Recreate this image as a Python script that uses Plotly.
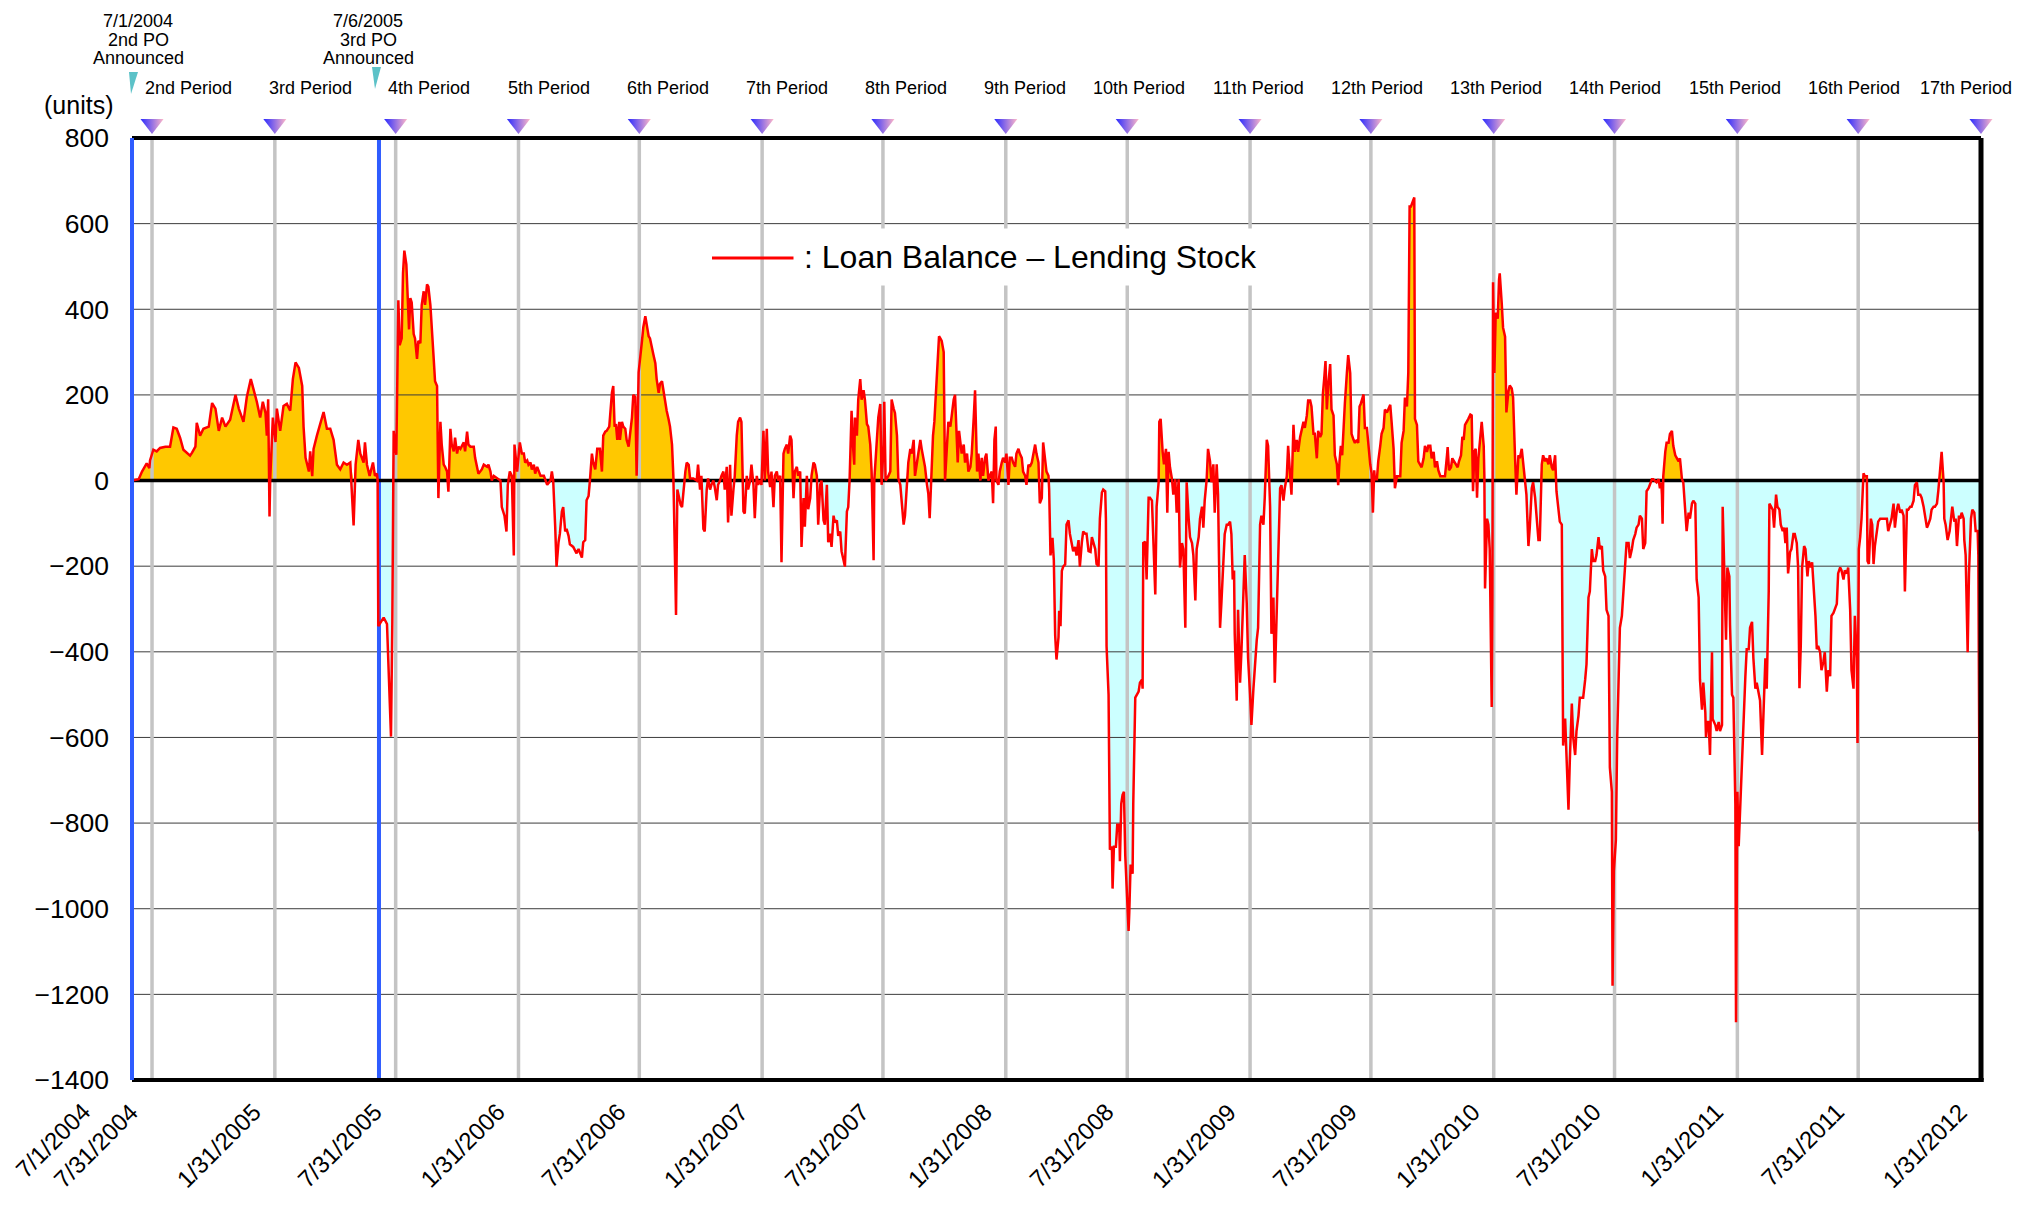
import pandas as pd
import plotly.graph_objects as go

# ---------------- canvas / layout geometry ----------------
# The page places the figure 8 px in from the top-left (browser body margin),
# so the figure is sized to fit and positions are given in page pixels.
OFF = 8
PAGE_W, PAGE_H = 2024, 1206
W, H = PAGE_W - 2 * OFF, PAGE_H - 2 * OFF
PLOT_L, PLOT_R, PLOT_T, PLOT_B = 132, 1981, 138, 1080      # page px of main plot area
HEAD_T = 110                                                # page px of top of marker strip
ML = PLOT_L - OFF
MR = W - (PLOT_R - OFF)
MT = HEAD_T - OFF
MB = H - (PLOT_B - OFF)
PW = PLOT_R - PLOT_L
PH_ALL = PLOT_B - HEAD_T
MAIN_TOP = (PLOT_B - PLOT_T) / PH_ALL                       # domain top of main y-axis

START = pd.Timestamp("2004-07-01")
END = pd.Timestamp("2012-01-31")
Y_MIN, Y_MAX = -1400, 800


def px_x(px):
    return (px - PLOT_L) / PW


def px_y(py):
    return (PLOT_B - py) / PH_ALL


# ---------------- data: (days since 7/1/2004, units) ----------------
seg_2004_07_to_2005_06 = [
    (0, 0), (10, 3), (15, 21), (20, 37), (22, 40), (26, 29), (27, 47), (32, 72), (37, 68), (42, 76),
    (50, 79), (57, 79), (60, 105), (62, 124), (67, 121), (72, 100), (77, 72), (82, 65), (87, 58), (90, 65),
    (95, 79), (97, 135), (102, 105), (107, 121), (115, 126), (120, 181), (125, 168), (130, 116), (135, 147),
    (140, 126), (147, 142), (155, 200), (160, 168), (167, 137), (172, 195), (178, 237), (182, 216), (187, 184),
    (192, 147), (196, 184), (200, 158), (202, 105), (204, 190), (206, -84), (207, 0), (211, 147), (215, 90),
    (217, 168), (222, 116), (227, 174), (232, 179), (237, 163), (241, 237), (245, 276), (250, 263), (255, 221),
    (257, 126), (260, 53), (265, 21), (267, 68), (270, 10), (272, 74), (277, 105), (282, 132), (287, 160),
    (292, 121), (297, 121), (302, 95), (307, 37), (312, 26), (317, 42), (322, 37), (327, 42), (332, -105),
    (335, 37), (339, 95),
]

seg_2005_06_to_2006_06 = [
    (342, 63), (347, 42), (349, 89), (352, 37), (356, 11), (361, 42), (364, 11), (367, 16), (368, 0), (369, -340),
    (377, -320), (382, -335), (384, -433), (388, -598), (390, -330), (392, 116), (396, 60), (399, 421), (401, 316),
    (404, 332), (406, 484), (408, 537), (411, 505), (413, 421), (415, 353), (417, 426), (419, 416), (422, 342),
    (424, 332), (427, 284), (429, 326), (432, 321), (434, 410), (437, 442), (439, 410), (442, 458), (444, 453),
    (447, 410), (449, 368), (452, 284), (454, 232), (457, 221), (459, -41), (462, 137), (464, 84), (467, 37),
    (469, 32), (472, 21), (474, -26), (477, 121), (479, 84), (482, 68), (484, 100), (487, 63), (489, 79), (492, 74),
    (497, 89), (499, 68), (502, 114), (504, 84), (507, 79), (512, 79), (514, 53), (519, 16), (524, 26), (527, 37),
    (532, 32), (534, 37), (537, 21), (539, 0), (542, 11), (547, 5), (552, 0), (554, -62), (558, -82), (561, -119),
    (563, -10), (566, 21), (569, 11), (572, -175), (573, 84), (577, 21), (581, 89), (584, 63), (587, 63), (589, 42),
    (592, 47), (594, 37), (597, 42), (599, 26), (602, 37), (604, 16), (607, 32), (612, 11), (617, 11), (622, -10),
    (627, 0), (629, 21), (631, 0), (634, -108), (636, -201), (639, -144), (641, -124), (644, -72), (646, -62),
    (649, -119), (651, -113), (654, -129), (656, -149), (661, -155), (666, -170), (669, -160), (671, -170),
    (674, -180), (676, -144), (679, -139), (681, -46), (684, -36), (686, 0), (689, 63), (691, 42), (694, 26),
    (697, 74), (701, 74), (704, 21), (706, 105), (709, 114), (711, 116), (715, 126),
]

seg_2006_06_to_2007_06 = [
    (719, 205), (721, 221), (723, 126), (725, 132), (727, 95), (730, 137), (731, 95), (734, 137), (736, 126),
    (739, 121), (741, 95), (744, 79), (746, 105), (749, 147), (751, 200), (754, 195), (756, 11), (759, 253),
    (764, 326), (766, 358), (769, 384), (771, 368), (774, 337), (776, 332), (779, 305), (781, 295), (784, 274),
    (786, 237), (789, 205), (791, 226), (794, 232), (796, 211), (799, 189), (801, 163), (804, 142), (806, 126),
    (809, 84), (811, 11), (814, -227), (815, -314), (817, -21), (820, -41), (822, -57), (824, -62), (826, -21),
    (829, 21), (831, 42), (834, 37), (836, 5), (841, 5), (846, 0), (848, 37), (851, -21), (853, 11), (856, -113),
    (858, -119), (861, -21), (863, 5), (866, -21), (868, -10), (871, 0), (873, -15), (876, -46), (878, -10),
    (881, 0), (883, 11), (886, 21), (888, -21), (891, 32), (893, -98), (896, 37), (898, -82), (901, -21),
    (903, 11), (906, 105), (908, 137), (911, 147), (913, 137), (916, -72), (918, -77), (921, 11), (923, -21),
    (926, 0), (928, 37), (931, -10), (933, -88), (936, 11), (938, -10), (941, 0), (943, -10), (946, 116),
    (948, 0), (951, 121), (953, 21), (956, -15), (958, 21), (961, -62), (963, 11), (966, 21), (968, 0), (971, 11),
    (973, -191), (976, 63), (978, 74), (981, 84), (983, 63), (986, 105), (988, 95), (991, -41), (993, 21),
    (996, 32), (998, 11), (1001, 21), (1003, -155), (1006, -41), (1008, -108), (1011, 11), (1013, -67),
    (1016, -41), (1018, 11), (1021, 42), (1023, 37), (1026, 11), (1028, -103), (1031, -10), (1033, 0),
    (1036, -93), (1038, -103), (1041, -10), (1043, -144), (1046, -124), (1048, -155), (1051, -82), (1053, -98),
    (1056, -93), (1058, -129), (1061, -119), (1063, -165), (1066, -186), (1068, -201), (1071, -72), (1073, -62),
]

seg_2007_06_to_2008_06 = [
    (1075, 0), (1077, 158), (1078, 163), (1080, 84), (1082, 37), (1083, 147), (1086, 105), (1088, 189),
    (1091, 237), (1093, 189), (1096, 211), (1098, 189), (1101, 132), (1103, 126), (1106, 84), (1108, 21),
    (1111, -186), (1112, 0), (1113, 21), (1116, 84), (1118, 147), (1121, 179), (1123, -10), (1126, 84),
    (1127, 184), (1129, 0), (1133, 10), (1136, 21), (1138, 189), (1141, 168), (1143, 158), (1146, 105),
    (1148, 5), (1151, -10), (1153, -41), (1156, -103), (1158, -82), (1161, 11), (1163, 42), (1166, 74),
    (1168, 63), (1171, 95), (1173, 11), (1176, 42), (1178, 63), (1181, 95), (1183, 74), (1186, 53), (1188, 32),
    (1191, -10), (1193, -31), (1195, -88), (1197, -10), (1200, 105), (1202, 137), (1204, 200), (1207, 274),
    (1209, 337), (1211, 332), (1213, 326), (1216, 300), (1218, 0), (1221, 84), (1223, 137), (1226, 126),
    (1228, 158), (1231, 189), (1233, 200), (1235, 116), (1237, 42), (1239, 116), (1241, 95), (1243, 63),
    (1246, 84), (1248, 42), (1251, 63), (1253, 21), (1256, 32), (1258, 63), (1261, 147), (1263, 211), (1266, 21),
    (1268, 63), (1271, 0), (1273, 53), (1275, 11), (1278, 53), (1280, 63), (1283, 0), (1285, 11), (1288, 21),
    (1290, -53), (1292, 95), (1294, 126), (1295, 0), (1298, -10), (1300, 21), (1303, 42), (1305, 53), (1308, 42),
    (1310, 63), (1313, -10), (1315, 53), (1318, 53), (1320, 42), (1323, 32), (1325, 63), (1328, 74), (1330, 63),
    (1333, 53), (1335, 21), (1338, 11), (1340, -10), (1343, 37), (1345, 32), (1348, 42), (1350, 63), (1353, 84),
    (1355, 63), (1358, 42), (1360, -53), (1363, -41), (1365, 89), (1368, 42), (1370, 21), (1373, 11),
    (1374, -21), (1376, -175), (1379, -134), (1381, -186), (1383, -361), (1385, -418), (1388, -366),
    (1389, -304), (1391, -340), (1393, -211), (1395, -201), (1398, -196), (1400, -103), (1403, -93),
    (1405, -124), (1408, -149), (1410, -165), (1413, -155), (1415, -175), (1418, -139), (1420, -201),
    (1423, -144), (1425, -119), (1428, -124), (1430, -124), (1433, -165),
]

seg_2008_06_to_2009_06 = [
    (1436, -167), (1438, -132), (1440, -146), (1443, -160), (1445, -195), (1448, -200), (1450, -89), (1453, -28),
    (1455, -21), (1458, -25), (1459, -89), (1460, -387), (1463, -500), (1464, -670), (1465, -862), (1468, -855),
    (1469, -953), (1471, -855), (1474, -855), (1476, -804), (1479, -804), (1480, -889), (1482, -755),
    (1484, -734), (1486, -727), (1488, -875), (1490, -946), (1493, -1052), (1494, -1010), (1496, -897),
    (1499, -918), (1500, -755), (1503, -507), (1505, -500), (1508, -493), (1510, -472), (1513, -465),
    (1514, -486), (1515, -146), (1518, -143), (1520, -231), (1523, -40), (1525, -40), (1528, -47), (1530, -132),
    (1533, -266), (1535, -61), (1538, -4), (1539, 137), (1541, 144), (1544, 67), (1546, 38), (1549, 74),
    (1551, -75), (1553, 67), (1555, 31), (1558, 3), (1560, -33), (1563, 3), (1565, -75), (1568, 3), (1570, -203),
    (1573, -146), (1575, -160), (1578, -344), (1580, -4), (1583, -89), (1585, -132), (1588, -146), (1590, -174),
    (1593, -280), (1595, -160), (1598, -132), (1600, -89), (1603, -61), (1605, -110), (1607, -47), (1610, 3),
    (1612, 74), (1615, 45), (1617, -4), (1620, 38), (1622, -75), (1625, 38), (1627, -33), (1630, -344),
    (1632, -287), (1635, -174), (1637, -125), (1640, -103), (1642, -103), (1645, -96), (1647, -125),
    (1649, -231), (1651, -210), (1652, -358), (1655, -514), (1657, -302), (1660, -472), (1662, -401),
    (1665, -245), (1667, -174), (1670, -287), (1672, -415), (1675, -500), (1677, -571), (1680, -486),
    (1682, -429), (1685, -372), (1687, -344), (1690, -103), (1692, -82), (1695, -103), (1697, -40), (1700, 95),
    (1702, 81), (1705, -61), (1707, -358), (1710, -273), (1712, -472), (1715, -302), (1717, -231), (1720, -18),
    (1722, -11), (1725, -47), (1727, -18), (1730, 10), (1732, 81), (1735, 24), (1737, -33), (1740, 130),
    (1742, 67), (1745, 95), (1747, 67), (1750, 102), (1752, 116), (1755, 137), (1757, 123), (1760, 152),
    (1762, 187),
]

seg_2009_06_to_2010_05 = [
    (1765, 187), (1767, 173), (1770, 109), (1772, 109), (1775, 52), (1777, 116), (1780, 102), (1782, 109),
    (1784, 201), (1786, 237), (1788, 279), (1790, 166), (1792, 222), (1795, 272), (1797, 166), (1800, 152),
    (1802, 59), (1805, 38), (1807, -11), (1809, 45), (1811, 81), (1813, 59), (1815, 130), (1817, 180),
    (1820, 251), (1822, 293), (1825, 251), (1827, 109), (1830, 95), (1832, 88), (1835, 95), (1837, 88),
    (1839, 173), (1841, 180), (1845, 201), (1847, 123), (1850, 123), (1852, 81), (1855, 38), (1857, 17),
    (1859, -75), (1861, 24), (1862, 3), (1865, 3), (1867, 45), (1870, 81), (1872, 109), (1875, 123), (1877, 166),
    (1880, 159), (1882, 166), (1885, 177), (1887, 137), (1890, 74), (1892, -18), (1895, 10), (1897, 10),
    (1900, 10), (1902, 88), (1905, 116), (1907, 194), (1910, 173), (1912, 251), (1914, 640), (1916, 640),
    (1919, 654), (1921, 661), (1922, 144), (1925, 130), (1927, 45), (1930, 38), (1932, 31), (1935, 52),
    (1937, 81), (1940, 67), (1942, 81), (1945, 81), (1947, 52), (1950, 67), (1952, 31), (1955, 45), (1957, 24),
    (1960, 10), (1962, 10), (1965, 10), (1967, 10), (1970, 59), (1971, 78), (1973, 24), (1976, 31), (1978, 52),
    (1981, 45), (1983, 38), (1986, 31), (1988, 45), (1991, 59), (1993, 102), (1995, 95), (1997, 130), (2000, 137),
    (2002, 144), (2005, 154), (2007, 152), (2009, -25), (2011, 67), (2013, 74), (2015, -40), (2017, 52),
    (2020, 102), (2022, 137), (2025, 81), (2026, 10), (2027, -252), (2030, -89), (2032, -103), (2034, -160),
    (2037, -529), (2038, -273), (2039, 463), (2041, 251), (2043, 392), (2046, 378), (2048, 470), (2049, 484),
    (2052, 414), (2054, 357), (2057, 336), (2059, 159), (2062, 208), (2064, 222), (2067, 215), (2069, 194),
    (2072, 52), (2074, -33), (2077, 59), (2079, 52), (2082, 74), (2084, 38), (2087, 3), (2089, -33), (2092, -153),
    (2094, -110), (2097, -18), (2099, -4), (2102, -40), (2104, -75), (2107, -139),
]

seg_2010_05_to_2011_05 = [
    (2109, -139), (2112, 38), (2114, 59), (2117, 45), (2119, 52), (2122, 38), (2124, 59), (2127, 31), (2129, 24),
    (2132, 59), (2134, -25), (2137, -75), (2139, -96), (2142, -103), (2143, -443), (2144, -619), (2147, -556),
    (2149, -655), (2152, -769), (2154, -655), (2157, -521), (2159, -599), (2162, -641), (2164, -585),
    (2167, -549), (2169, -507), (2172, -507), (2174, -507), (2177, -465), (2179, -429), (2182, -273),
    (2184, -259), (2187, -160), (2189, -188), (2192, -188), (2194, -174), (2197, -132), (2199, -160),
    (2202, -153), (2204, -210), (2207, -224), (2209, -302), (2212, -316), (2213, -457), (2214, -670),
    (2217, -727), (2218, -1180), (2220, -911), (2222, -840), (2223, -840), (2225, -599), (2227, -457),
    (2229, -344), (2232, -316), (2234, -259), (2237, -188), (2239, -146), (2242, -146), (2244, -181),
    (2247, -160), (2249, -139), (2252, -125), (2254, -110), (2257, -103), (2259, -82), (2262, -89), (2264, -160),
    (2267, -146), (2269, -25), (2272, -18), (2274, -11), (2277, 3), (2279, 3), (2282, -1), (2284, -4), (2287, 3),
    (2289, -18), (2291, -4), (2292, -33), (2293, -101), (2294, 10), (2297, 67), (2299, 88), (2302, 88),
    (2304, 109), (2307, 116), (2309, 81), (2312, 59), (2314, 52), (2317, 45), (2319, 52), (2322, 3), (2324, -4),
    (2327, -61), (2329, -118), (2332, -75), (2334, -89), (2337, -54), (2339, -47), (2342, -54), (2344, -231),
    (2347, -273), (2349, -465), (2352, -535), (2354, -472), (2357, -542), (2358, -599), (2360, -564),
    (2362, -564), (2364, -641), (2367, -401), (2368, -557), (2370, -564), (2372, -571), (2374, -585),
    (2377, -564), (2379, -585), (2382, -571), (2383, -61), (2385, -174), (2388, -372), (2390, -203),
    (2393, -224), (2394, -337), (2397, -500), (2399, -507), (2402, -755), (2403, -1265), (2405, -727),
    (2407, -854), (2409, -769), (2412, -670), (2414, -564), (2417, -457), (2419, -394), (2422, -394),
    (2424, -344), (2427, -330), (2429, -415), (2432, -486), (2434, -472), (2437, -493), (2439, -514),
    (2442, -641), (2444, -542), (2447, -415), (2449, -486),
]

seg_2011_05_to_2012_01 = [
    (2452, -259), (2453, -54), (2456, -61), (2458, -68), (2460, -110), (2463, -33), (2465, -61), (2468, -68),
    (2470, -103), (2473, -118), (2475, -110), (2477, -146), (2479, -110), (2481, -217), (2484, -167),
    (2486, -160), (2489, -125), (2491, -125), (2494, -146), (2496, -203), (2498, -485), (2500, -386),
    (2502, -203), (2505, -153), (2507, -160), (2510, -224), (2512, -188), (2515, -203), (2517, -191),
    (2520, -259), (2522, -316), (2524, -394), (2526, -386), (2529, -401), (2531, -443), (2534, -422),
    (2536, -401), (2539, -493), (2541, -443), (2544, -457), (2546, -316), (2549, -309), (2551, -302),
    (2554, -288), (2556, -217), (2559, -203), (2561, -210), (2564, -231), (2566, -210), (2569, -217),
    (2571, -203), (2574, -302), (2576, -443), (2579, -486), (2581, -316), (2584, -415), (2585, -613),
    (2587, -160), (2589, -132), (2591, -89), (2594, 17), (2596, 10), (2599, 10), (2600, -188), (2602, -195),
    (2605, -89), (2607, -103), (2609, -195), (2611, -153), (2614, -118), (2616, -96), (2619, -89), (2621, -89),
    (2624, -89), (2626, -89), (2629, -89), (2631, -118), (2634, -96), (2636, -89), (2639, -54), (2641, -110),
    (2644, -68), (2646, -54), (2649, -75), (2651, -68), (2654, -82), (2656, -259), (2659, -68), (2661, -68),
    (2664, -61), (2666, -61), (2669, -47), (2671, -11), (2674, -4), (2676, -33), (2679, -33), (2681, -40),
    (2684, -61), (2686, -82), (2689, -110), (2691, -103), (2694, -89), (2696, -68), (2699, -61), (2701, -61),
    (2704, -54), (2706, -25), (2709, 24), (2711, 67), (2714, -4), (2715, -89), (2717, -103), (2720, -139),
    (2723, -118), (2725, -89), (2727, -61), (2730, -96), (2732, -89), (2734, -153), (2737, -82), (2739, -89),
    (2741, -75), (2744, -89), (2745, -139), (2747, -174), (2750, -401), (2752, -217), (2755, -89), (2757, -68),
    (2760, -75), (2762, -118), (2765, -118), (2766, -174), (2768, -819), (2770, -132),
]

# ---------------- axis / annotation text ----------------
tick_dates = ["2004-07-01", "2004-07-31", "2005-01-31", "2005-07-31", "2006-01-31", "2006-07-31",
              "2007-01-31", "2007-07-31", "2008-01-31", "2008-07-31", "2009-01-31", "2009-07-31",
              "2010-01-31", "2010-07-31", "2011-01-31", "2011-07-31", "2012-01-31"]
tick_text = ["7/1/2004", "7/31/2004", "1/31/2005", "7/31/2005", "1/31/2006", "7/31/2006",
             "1/31/2007", "7/31/2007", "1/31/2008", "7/31/2008", "1/31/2009", "7/31/2009",
             "1/31/2010", "7/31/2010", "1/31/2011", "7/31/2011", "1/31/2012"]
period_labels = ["2nd Period", "3rd Period", "4th Period", "5th Period", "6th Period", "7th Period",
                 "8th Period", "9th Period", "10th Period", "11th Period", "12th Period", "13th Period",
                 "14th Period", "15th Period", "16th Period", "17th Period"]
period_dates = tick_dates[1:]
po_dates = ["2004-07-01", "2005-07-06"]
po_texts = [["7/1/2004", "2nd PO", "Announced"], ["7/6/2005", "3rd PO", "Announced"]]
y_ticks = list(range(Y_MIN, Y_MAX + 1, 200))
series_name = ": Loan Balance \u2013 Lending Stock"

# layout positions (page pixels) for header labels
period_label_px = [188, 310, 429, 549, 668, 787, 906, 1025, 1139, 1258, 1377, 1496, 1615, 1735, 1854, 1966]
po_label_px = [138, 368]

# ---------------- assemble series ----------------
segments = [seg_2004_07_to_2005_06, seg_2005_06_to_2006_06, seg_2006_06_to_2007_06,
            seg_2007_06_to_2008_06, seg_2008_06_to_2009_06, seg_2009_06_to_2010_05,
            seg_2010_05_to_2011_05, seg_2011_05_to_2012_01]
pairs = [p for s in segments for p in s]
days = [p[0] for p in pairs]
vals = [p[1] for p in pairs]
xdates = START + pd.to_timedelta(days, unit="D")

FONT = "Liberation Sans, Arial, Helvetica, sans-serif"

fig = go.Figure()

# positive / negative fills
fig.add_trace(go.Scatter(x=xdates, y=[max(v, 0) for v in vals], mode="lines", fill="tozeroy",
                         fillcolor="#FFC800", line=dict(width=0), hoverinfo="skip", showlegend=False))
fig.add_trace(go.Scatter(x=xdates, y=[min(v, 0) for v in vals], mode="lines", fill="tozeroy",
                         fillcolor="#CCFFFF", line=dict(width=0), hoverinfo="skip", showlegend=False))

# horizontal grid lines (drawn above the fills)
gx, gy = [], []
for yv in y_ticks:
    if yv in (Y_MIN, 0, Y_MAX):
        continue
    gx += [START, END, None]
    gy += [yv, yv, None]
fig.add_trace(go.Scatter(x=gx, y=gy, mode="lines", line=dict(color="#3c3c3c", width=1),
                         hoverinfo="skip", showlegend=False))

# vertical grey half-year lines
vx, vy = [], []
for d in tick_dates[1:-1]:
    vx += [d, d, None]
    vy += [Y_MIN, Y_MAX, None]
fig.add_trace(go.Scatter(x=vx, y=vy, mode="lines", line=dict(color="#c4c4c4", width=3.5),
                         hoverinfo="skip", showlegend=False))

# blue PO announcement line (3rd PO)
fig.add_trace(go.Scatter(x=[po_dates[1], po_dates[1]], y=[Y_MIN, Y_MAX], mode="lines",
                         line=dict(color="#2f5cff", width=4), hoverinfo="skip", showlegend=False))

# zero line
fig.add_trace(go.Scatter(x=[START, END], y=[0, 0], mode="lines", line=dict(color="black", width=3.5),
                         hoverinfo="skip", showlegend=False))

# main series
fig.add_trace(go.Scatter(x=xdates, y=vals, mode="lines", name=series_name,
                         line=dict(color="#ff0000", width=2.5), showlegend=False))

# period start triangles in the strip above the plot (own y-axis)
fig.add_trace(go.Scatter(x=period_dates, y=[0.5] * len(period_dates), mode="markers", yaxis="y2",
                         marker=dict(symbol="triangle-down", size=20, color="#2a2aff",
                                     gradient=dict(type="horizontal", color="#ffb8c8"),
                                     line=dict(width=0)),
                         cliponaxis=False, hoverinfo="skip", showlegend=False))

shapes = []
top_y = px_y(PLOT_T)
# frame
shapes.append(dict(type="line", xref="paper", yref="paper", x0=0, x1=1, y0=top_y, y1=top_y,
                   line=dict(color="black", width=4), layer="above"))
shapes.append(dict(type="line", xref="paper", yref="paper", x0=0, x1=1.0015, y0=0, y1=0,
                   line=dict(color="black", width=4), layer="above"))
shapes.append(dict(type="line", xref="paper", yref="paper", x0=1, x1=1, y0=0, y1=top_y,
                   line=dict(color="black", width=5), layer="above"))
shapes.append(dict(type="line", xref="paper", yref="paper", x0=0, x1=0, y0=0, y1=top_y,
                   line=dict(color="#2f5cff", width=4), layer="above"))
# legend sample line
shapes.append(dict(type="line", xref="paper", yref="paper", x0=px_x(712), x1=px_x(794),
                   y0=px_y(258), y1=px_y(258), line=dict(color="#ff0000", width=3), layer="above"))
# small teal wedges marking PO announcements
for (a, b, c, top, bot) in [(129, 138, 131, 72, 94), (372, 381, 375, 67, 89)]:
    path = (f"M {px_x(a)} {px_y(top)} L {px_x(b)} {px_y(top)} L {px_x(c)} {px_y(bot)} Z")
    shapes.append(dict(type="path", xref="paper", yref="paper", path=path,
                       fillcolor="#5cc2c8", line=dict(width=0), layer="above"))

annotations = []
# legend text
annotations.append(dict(xref="paper", yref="paper", x=px_x(793), y=px_y(257), xanchor="left",
                        yanchor="middle", text=series_name, showarrow=False, bgcolor="white",
                        borderpad=10, font=dict(family=FONT, size=32, color="black")))
# period labels
for lab, px in zip(period_labels, period_label_px):
    annotations.append(dict(xref="paper", yref="paper", x=px_x(px), y=px_y(88), xanchor="center",
                            yanchor="middle", text=lab, showarrow=False,
                            font=dict(family=FONT, size=18, color="black")))
# PO announcements
for lines, px in zip(po_texts, po_label_px):
    for line, py in zip(lines, [21, 40, 58]):
        annotations.append(dict(xref="paper", yref="paper", x=px_x(px), y=px_y(py), xanchor="center",
                                yanchor="middle", text=line, showarrow=False,
                                font=dict(family=FONT, size=18, color="black")))
# units label
annotations.append(dict(xref="paper", yref="paper", x=px_x(78), y=px_y(105), xanchor="center",
                        yanchor="middle", text="(units)", showarrow=False,
                        font=dict(family=FONT, size=25, color="black")))
# rotated date labels
for i, (d, t) in enumerate(zip(tick_dates, tick_text)):
    annotations.append(dict(xref="x", yref="paper", x=d, y=px_y(1095), xanchor="right", yanchor="top",
                            xshift=(-34 if i == 0 else -6), text=t, textangle=-45, showarrow=False,
                            font=dict(family=FONT, size=24, color="black")))

fig.update_layout(
    width=W, height=H,
    margin=dict(l=ML, r=MR, t=MT, b=MB, pad=0),
    paper_bgcolor="white", plot_bgcolor="white",
    font=dict(family=FONT, color="black"),
    shapes=shapes, annotations=annotations,
    xaxis=dict(type="date", range=[START, END], showticklabels=False, showgrid=False,
               zeroline=False, showline=False, ticks=""),
    yaxis=dict(range=[Y_MIN, Y_MAX], domain=[0, MAIN_TOP], tickvals=y_ticks, showgrid=False,
               zeroline=False, showline=False, ticks="", ticklabelstandoff=22,
               tickfont=dict(family=FONT, size=26.5, color="black")),
    yaxis2=dict(range=[0, 1], domain=[MAIN_TOP, 1], anchor="x", visible=False, showgrid=False,
                zeroline=False),
    hovermode=False,
)

fig.write_html("out.html")
